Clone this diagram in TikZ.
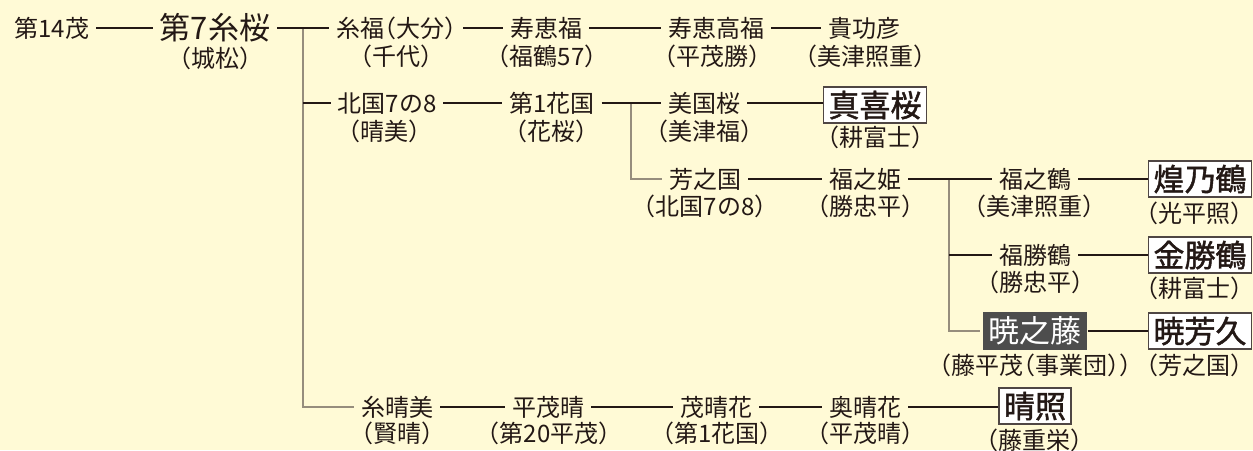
\documentclass[tikz,border=0pt]{standalone}
\usepackage{fontspec}
\setmainfont{Noto Sans CJK JP}[RawFeature=+halt]
\newfontfamily\boxfont{Noto Sans CJK JP}[RawFeature=+halt,FakeBold=1.4]
\definecolor{bg}{HTML}{FFFAD6}
\definecolor{ink}{HTML}{231815}
\definecolor{tree}{HTML}{968D7D}
\definecolor{darkbox}{HTML}{4D4D4D}
\begin{document}
\begin{tikzpicture}[x=1pt,y=-1pt,
  nm/.style={font=\fontsize{24}{24}\selectfont, text=ink, inner xsep=7pt, inner ysep=0pt,
    text height=21.1pt, text depth=2.9pt, outer sep=0pt},
  sub/.style={nm, inner xsep=0pt},
  big/.style={nm, font=\fontsize{31}{31}\selectfont, text height=27.3pt, text depth=3.7pt},
  boxed/.style={font=\fontsize{31}{31}\boxfont, text=ink, draw=ink!80, line width=1.2pt,
    fill=white, inner xsep=5pt, inner ysep=2.5pt, text height=27.3pt, text depth=3.7pt, outer sep=1pt},
  darkboxed/.style={boxed, fill=darkbox, draw=darkbox, text=white, font=\fontsize{31}{31}\selectfont},
  link/.style={draw=ink, line width=1.1pt},
  branch/.style={draw=tree, line width=1.6pt},
]
\fill[bg] (0,0) rectangle (1253,450);
\useasboundingbox (0,0) rectangle (1253,450);

% Row 1
\node[nm] (n14) at (52,28) {第14茂};
\node[big] (s7) at (215,28) {第7糸桜};
\node[sub] (s7s) at (215,58) {（城松）};
\node[nm] (itofuku) at (396,28) {糸福（大分）};
\node[sub] (itofukus) at (396,56) {（千代）};
\node[nm] (jukei) at (546,28) {寿恵福};
\node[sub] (jukeis) at (547,56) {（福鶴57）};
\node[nm] (jukeitaka) at (716,28) {寿恵高福};
\node[sub] (jukeitakas) at (712,56) {（平茂勝）};
\node[nm] (kiko) at (864,28) {貴功彦};
\node[sub] (kikos) at (865,56) {（美津照重）};

% Row 2
\node[nm] (kita) at (387,103) {北国7の8};
\node[sub] (kitas) at (384,131) {（晴美）};
\node[nm] (dai1) at (552,103) {第1花国};
\node[sub] (dai1s) at (551,131) {（花桜）};
\node[nm] (mikuni) at (704,103) {美国桜};
\node[sub] (mikunis) at (704,131) {（美津福）};
\node[boxed] (maki) at (875,105) {真喜桜};
\node[sub] (makis) at (875,137) {（耕富士）};

% Row 3
\node[nm] (hoshi) at (705,179) {芳之国};
\node[sub] (hoshis) at (705,206) {（北国7の8）};
\node[nm] (fukuhime) at (865,179) {福之姫};
\node[sub] (fukuhimes) at (865,206) {（勝忠平）};
\node[nm] (fukutsuru) at (1035,179) {福之鶴};
\node[sub] (fukutsurus) at (1034,206) {（美津照重）};
\node[boxed] (kou) at (1200,179) {煌乃鶴};
\node[sub] (kous) at (1194,213) {（光平照）};

% Row 4
\node[nm] (fukukatsu) at (1035,255) {福勝鶴};
\node[sub] (fukukatsus) at (1035,282) {（勝忠平）};
\node[boxed] (kinkatsu) at (1200,255) {金勝鶴};
\node[sub] (kinkatsus) at (1194,288) {（耕富士）};

% Row 5
\node[darkboxed] (akatsuki) at (1035,331) {暁之藤};
\node[sub] (akatsukis) at (1035,365) {（藤平茂（事業団））};
\node[boxed] (akiyoshi) at (1200,331) {暁芳久};
\node[sub] (akiyoshis) at (1194,365) {（芳之国）};

% Row 6
\node[nm] (itoharu) at (397,407) {糸晴美};
\node[sub] (itoharus) at (397,433) {（賢晴）};
\node[nm] (heimo) at (548,407) {平茂晴};
\node[sub] (heimos) at (549,433) {（第20平茂）};
\node[nm] (moharu) at (716,407) {茂晴花};
\node[sub] (moharus) at (717,433) {（第1花国）};
\node[nm] (okuharu) at (865,407) {奥晴花};
\node[sub] (okuharus) at (865,433) {（平茂晴）};
\node[boxed] (haruteru) at (1035,406) {晴照};
\node[sub] (haruterus) at (1034,440) {（藤重栄）};

% junctions
\coordinate (j1) at (303,28);
\coordinate (j2) at (631,103);
\coordinate (j3) at (949,179);

% tree lines
\draw[branch] (j1) |- (itoharu.west);
\draw[branch] (j2) |- (hoshi.west);
\draw[branch,shorten >=3pt] (j3) |- (akatsuki.west);

% row 1 links
\draw[link] (n14.east) -- (s7.west);
\draw[link] (s7.east) -- (itofuku.west);
\draw[link] (itofuku.east) -- (jukei.west);
\draw[link] (jukei.east) -- (jukeitaka.west);
\draw[link] (jukeitaka.east) -- (kiko.west);
% row 2
\draw[link] (j1 |- kita.west) -- (kita.west);
\draw[link] (kita.east) -- (dai1.west);
\draw[link] (dai1.east) -- (mikuni.west);
\draw[link] (mikuni.east) -- (mikuni.east -| maki.west);
% row 3
\draw[link] (hoshi.east) -- (fukuhime.west);
\draw[link] (fukuhime.east) -- (fukutsuru.west);
\draw[link] (fukutsuru.east) -- (fukutsuru.east -| kou.west);
% row 4
\draw[link] (j3 |- fukukatsu.west) -- (fukukatsu.west);
\draw[link] (fukukatsu.east) -- (fukukatsu.east -| kinkatsu.west);
% row 5
\draw[link] (akatsuki.east) -- (akatsuki.east -| akiyoshi.west);
% row 6
\draw[link] (itoharu.east) -- (heimo.west);
\draw[link] (heimo.east) -- (moharu.west);
\draw[link] (moharu.east) -- (okuharu.west);
\draw[link] (okuharu.east) -- (okuharu.east -| haruteru.west);
\end{tikzpicture}
\end{document}
